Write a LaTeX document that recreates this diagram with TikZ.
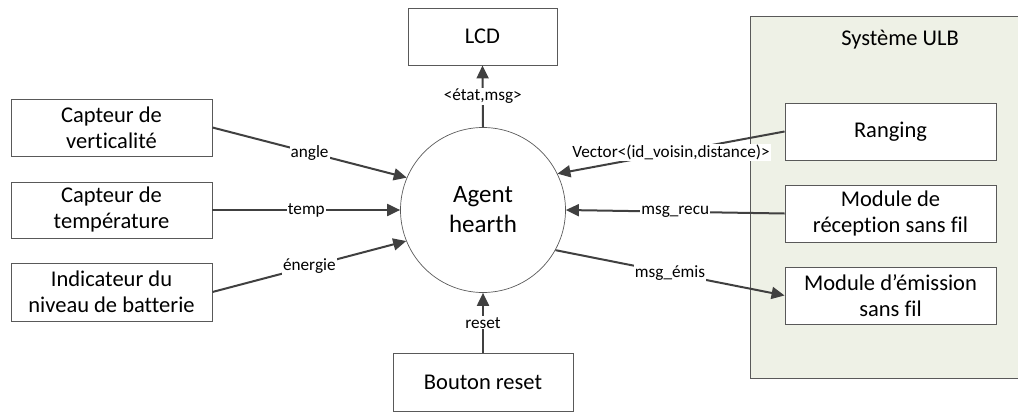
\documentclass[tikz,border=0pt]{standalone}
\usepackage{fontspec}
\setmainfont[Ligatures=NoCommon]{Carlito}
\usetikzlibrary{arrows.meta}
\definecolor{linec}{HTML}{404040}
\definecolor{boxc}{HTML}{595959}
\definecolor{ulbfill}{HTML}{EEF1E6}
\begin{document}
\begin{tikzpicture}[x=1pt,y=-1pt,
  boxn/.style={draw=boxc, line width=0.9pt, fill=white, inner sep=0pt, align=center, font=\fontsize{22.5}{26}\selectfont},
  flow/.style={draw=linec, line width=2pt, -{Triangle[length=13pt,width=12pt]}},
  lbl/.style={fill=white, inner sep=1pt, font=\fontsize{17.2}{20}\selectfont, midway}]
\useasboundingbox (0,0) rectangle (1018,412);
% container
\fill[ulbfill] (750,16) rectangle (1018,378);
\draw[boxc, line width=0.9pt] (1018,16) -- (750,16) -- (750,378) -- (1018,378);
\node[font=\fontsize{22.5}{26}\selectfont] (sys) at (900,40) {Système ULB};
% nodes
\node[boxn, minimum width=149pt, minimum height=57pt] (lcd) at (482.5,36.5) {LCD};
\node[draw=boxc, line width=0.7pt, circle, minimum size=165pt, inner sep=0pt, align=center, font=\fontsize{25}{30}\selectfont] (ag) at (483,210) {Agent\\hearth};
\node[boxn, minimum width=201pt, minimum height=57pt] (vert) at (111.5,127.5) {Capteur de\\verticalité};
\node[boxn, minimum width=201pt, minimum height=56pt] (temp) at (111.5,210) {Capteur de\\température};
\node[boxn, minimum width=201pt, minimum height=58pt] (bat) at (111.5,292) {Indicateur du\\niveau de batterie};
\node[boxn, minimum width=211pt, minimum height=57pt] (rang) at (890.5,131.5) {Ranging};
\node[boxn, minimum width=211pt, minimum height=57pt] (rec) at (890.5,213.5) {Module de\\réception sans fil};
\node[boxn, minimum width=211pt, minimum height=57pt] (emi) at (890.5,295.5) {Module d’émission\\sans fil};
\node[boxn, minimum width=180pt, minimum height=58pt] (reset) at (483,382) {Bouton reset};
% connectors
\draw[flow] (vert.east) -- node[lbl]{angle} (ag.157);
\draw[flow] (temp.east) -- node[lbl]{temp} (ag.west);
\draw[flow] (bat.east) -- node[lbl]{énergie} (ag.202);
\draw[flow] (rang.west) -- node[lbl]{Vector<(id\_voisin,distance)>} (ag.26);
\draw[flow] (rec.west) -- node[lbl]{msg\_recu} (ag.east);
\draw[flow] (ag.-29) -- node[lbl]{msg\_émis} (emi.west);
\draw[flow] (ag.north) -- node[lbl]{<état,msg>} (lcd.south);
\draw[flow] (reset.north) -- node[lbl]{reset} (ag.south);
\end{tikzpicture}
\end{document}
